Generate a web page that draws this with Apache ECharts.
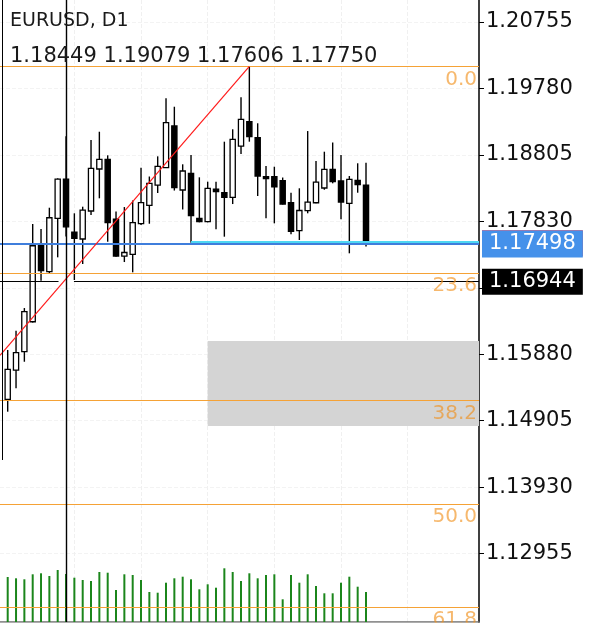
<!DOCTYPE html>
<html>
<head>
<meta charset="utf-8"/>
<title>EURUSD, D1</title>
<script src="https://cdn.jsdelivr.net/npm/echarts@6/dist/echarts.min.js"></script>
<style>
  html, body { margin: 0; padding: 0; background: #fff; }
  #main { width: 593px; height: 625px; }
</style>
</head>
<body>
<div id="main"></div>
<script type="text/javascript">
// daily bars, oldest first
var opens  = [1.15219, 1.15648, 1.15917, 1.16357, 1.17483, 1.17091, 1.17874, 1.18449, 1.17673, 1.17571,
              1.17982, 1.18598, 1.18740, 1.17864, 1.17321, 1.17346, 1.17798, 1.18065, 1.18363, 1.18617,
              1.19229, 1.18290, 1.18535, 1.17874, 1.17825, 1.18304, 1.18250, 1.18183, 1.18935, 1.19292,
              1.19057, 1.18485, 1.18485, 1.18429, 1.18103, 1.17695, 1.17986, 1.18103, 1.18319, 1.18594,
              1.18422, 1.18095, 1.18432, 1.18363];
var highs  = [1.15942, 1.16225, 1.16558, 1.17791, 1.17717, 1.18030, 1.18461, 1.19079, 1.17948, 1.18045,
              1.19024, 1.19145, 1.18799, 1.17974, 1.18040, 1.18136, 1.18617, 1.18488, 1.18784, 1.19635,
              1.19512, 1.18667, 1.18803, 1.18476, 1.18412, 1.18412, 1.18999, 1.19181, 1.19650, 1.20105,
              1.19269, 1.18642, 1.18632, 1.18473, 1.18250, 1.18315, 1.19155, 1.18715, 1.18852, 1.18987,
              1.18803, 1.18495, 1.18682, 1.18690];
var lows   = [1.15037, 1.15380, 1.15770, 1.16345, 1.16959, 1.17067, 1.17302, 1.17606, 1.16969, 1.17204,
              1.17923, 1.18168, 1.17531, 1.17311, 1.17233, 1.17082, 1.17776, 1.17795, 1.18246, 1.18613,
              1.18282, 1.18004, 1.17516, 1.17816, 1.17816, 1.17713, 1.17605, 1.18084, 1.18818, 1.18999,
              1.18202, 1.17874, 1.17801, 1.18077, 1.17641, 1.17556, 1.17948, 1.18095, 1.18294, 1.18388,
              1.17860, 1.17361, 1.18250, 1.17460];
var closes = [1.15659, 1.15905, 1.16504, 1.17472, 1.17106, 1.17883, 1.18451, 1.17750, 1.17581, 1.17996,
              1.18608, 1.18740, 1.17810, 1.17321, 1.17373, 1.17810, 1.18106, 1.18388, 1.18638, 1.19280,
              1.18324, 1.18569, 1.17913, 1.17825, 1.18315, 1.18265, 1.18183, 1.19034, 1.19327, 1.19072,
              1.18495, 1.18456, 1.18338, 1.18084, 1.17684, 1.17989, 1.18111, 1.18407, 1.18594, 1.18412,
              1.18114, 1.18447, 1.18371, 1.17498];
var volumes = [45000, 43700, 42700, 47700, 48700, 46000, 52000, 48000, 44300, 42000,
               41000, 50000, 49300, 32000, 47700, 47000, 42000, 30000, 29300, 39300,
               43700, 45300, 42700, 32700, 37700, 34300, 53700, 50000, 41000, 48700,
               43700, 47000, 47700, 22700, 47000, 39300, 47700, 36000, 28700, 28700,
               39300, 45300, 35300, 30000];

var priceTicks = ['1.12955', '1.13930', '1.14905', '1.15880', '1.16855', '1.17830', '1.18805', '1.19780', '1.20755'];

var fibNames  = ['0.0', '23.6', '38.2', '50.0', '61.8'];
var fibLevels = [1.20105, 1.17075, 1.15200, 1.13685, 1.12170];

var bidPrice = 1.17498;
var askPrice = 1.17510;
var levelPrice = 1.17525;   // cyan horizontal from bar 22
var levelFrom = 22;
var crossBar = 7;
var crossPrice = 1.16944;
var trendStart = [-0.924, 1.15864];
var trendEnd = [29, 1.20105];
var zoneFrom = 24, zoneTop = 1.16074, zoneBottom = 1.14827;
var separatorX = -0.684, separatorLow = 1.14328;

var symbolTitle = 'EURUSD, D1';
var ohlcText = '1.18449 1.19079 1.17606 1.17750';

var gridIdx = [8, 16, 24, 32, 40, 48];

var xMin = -0.924, xMax = 56.56;
var priceMin = 1.11951, priceMax = 1.21078;
var FONT = 'DejaVu Sans';

var candleData = opens.map(function (o, i) { return [i, o, closes[i], lows[i], highs[i]]; });
var volumeData = volumes.map(function (v, i) { return [i, v]; });

function renderCandle(params, api) {
    var x = api.value(0);
    var o = api.coord([x, api.value(1)]);
    var c = api.coord([x, api.value(2)]);
    var lo = api.coord([x, api.value(3)]);
    var hi = api.coord([x, api.value(4)]);
    var bull = api.value(2) >= api.value(1);
    var px = o[0];
    var top = Math.min(o[1], c[1]);
    var h = Math.max(Math.abs(o[1] - c[1]), 1.5);
    return {
        type: 'group',
        children: [
            { type: 'line', shape: { x1: px, y1: hi[1], x2: px, y2: lo[1] },
              style: { stroke: '#000', lineWidth: 1.4 } },
            { type: 'rect', shape: { x: px - 2.6, y: top, width: 5.2, height: h },
              style: { fill: bull ? '#fff' : '#000', stroke: '#000', lineWidth: 1.3 } }
        ]
    };
}

var chart = echarts.init(document.getElementById('main'));

var fibData = fibLevels.map(function (v, i) {
    return { yAxis: v, label: { formatter: fibNames[i] } };
});

var option = {
    animation: false,
    grid: { left: 0, right: 114, top: 0, bottom: 3 },
    xAxis: {
        type: 'value', min: xMin, max: xMax,
        axisLine: { show: true, onZero: false, lineStyle: { color: '#6e6e6e', width: 1.5 } },
        axisTick: { show: false, customValues: gridIdx },
        axisLabel: { show: false, customValues: gridIdx },
        splitLine: { show: true, lineStyle: { color: '#f0f0f0', type: 'dashed' } }
    },
    yAxis: [{
        type: 'value', position: 'right', min: priceMin, max: priceMax,
        axisLine: { show: true, onZero: false, lineStyle: { color: '#000', width: 1.5 } },
        axisTick: { show: true, length: 5, customValues: priceTicks.map(Number), lineStyle: { color: '#000' } },
        axisLabel: {
            customValues: priceTicks.map(Number),
            formatter: function (v) { return v.toFixed(5); },
            fontSize: 21, fontFamily: FONT, color: '#111', margin: 7
        },
        splitLine: { show: true, lineStyle: { color: '#f3f3f3', type: 'dashed' } }
    }, {
        type: 'value', min: 0, max: 622000, show: false
    }],
    graphic: [
        { type: 'text', left: 10, top: 12, z: 10,
          style: { text: symbolTitle, font: '19px "' + FONT + '"', fill: '#1a1a1a' } },
        { type: 'text', left: 10, top: 46, z: 10,
          style: { text: ohlcText, font: '21px "' + FONT + '"', fill: '#1a1a1a' } },
        // bottom strip below the plot hides the part of the last level label
        { type: 'rect', left: 0, bottom: 0, z: 10,
          shape: { width: 478, height: 2.2 }, style: { fill: '#fff' } }
    ],
    series: [
        {
            name: 'zone', type: 'line', data: [], silent: true, z: 1,
            markArea: {
                silent: true,
                itemStyle: { color: '#d4d4d4' },
                data: [[{ coord: [zoneFrom, zoneTop] }, { coord: [xMax, zoneBottom] }]]
            }
        },
        {
            name: 'volume', type: 'bar', xAxisIndex: 0, yAxisIndex: 1, data: volumeData,
            barWidth: 2, silent: true, z: 1,
            itemStyle: { color: '#1b861b' }
        },
        {
            name: 'fibo', type: 'line', data: [], silent: true, z: 2,
            markLine: {
                symbol: ['none', 'none'], silent: true, precision: 5,
                lineStyle: { color: '#f5a236', type: 'solid', width: 1.2 },
                label: {
                    show: true, position: 'insideEndBottom', distance: [2, 3],
                    color: 'rgba(240,140,20,0.62)', fontSize: 20, fontFamily: FONT
                },
                data: fibData
            }
        },
        {
            name: 'prices', type: 'line', data: [], silent: true, z: 2,
            markLine: {
                symbol: ['none', 'none'], silent: true, precision: 5,
                label: { show: false },
                data: [
                    { yAxis: askPrice, lineStyle: { color: '#e2344f', width: 1, type: 'solid' },
                      label: { show: true, position: 'end', distance: 3, formatter: bidPrice.toFixed(5),
                               color: '#e2344f', backgroundColor: '#e2344f', padding: [3, 7, 2, 7],
                               fontSize: 21, fontFamily: FONT } },
                    [{ coord: [levelFrom, levelPrice], lineStyle: { color: '#4ed7f2', width: 3, type: 'solid' } },
                     { coord: [xMax, levelPrice] }],
                    { yAxis: bidPrice, lineStyle: { color: '#3f7edc', width: 2, type: 'solid' },
                      label: { show: true, position: 'end', distance: 3, formatter: bidPrice.toFixed(5),
                               color: '#fff', backgroundColor: '#4591ea', padding: [4, 7, 2, 7],
                               fontSize: 21, fontFamily: FONT } }
                ]
            }
        },
        {
            name: 'EURUSD', type: 'custom', renderItem: renderCandle, data: candleData,
            encode: { x: 0, y: [1, 2, 3, 4] }, silent: true, z: 3, clip: true
        },
        {
            name: 'tools', type: 'line', data: [], silent: true, z: 4,
            markLine: {
                symbol: ['none', 'none'], silent: true, precision: 5,
                label: { show: false },
                data: [
                    [{ coord: trendStart, lineStyle: { color: '#ff1a1a', width: 1.2, type: 'solid' } },
                     { coord: trendEnd }],
                    { xAxis: crossBar, lineStyle: { color: '#000', width: 1.4, type: 'solid' } },
                    [{ coord: [separatorX, priceMax], lineStyle: { color: '#000', width: 1, type: 'solid' } },
                     { coord: [separatorX, separatorLow] }],
                    [{ coord: [xMin, crossPrice], lineStyle: { color: '#000', width: 1.2, type: 'solid' } },
                     { coord: [crossBar - 0.9, crossPrice] }],
                    [{ coord: [crossBar + 0.95, crossPrice], lineStyle: { color: '#000', width: 1.2, type: 'solid' },
                       label: { show: true, position: 'end', distance: 3, formatter: crossPrice.toFixed(5),
                                color: '#fff', backgroundColor: '#000', padding: [3, 7, 2, 7],
                                fontSize: 21, fontFamily: FONT } },
                     { coord: [xMax, crossPrice] }]
                ]
            }
        }
    ]
};

chart.setOption(option);
</script>
</body>
</html>
